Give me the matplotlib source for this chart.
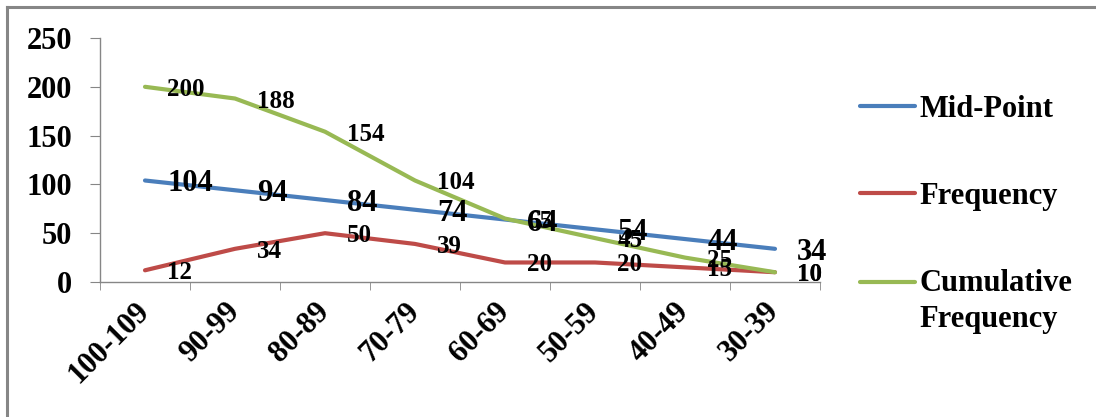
import matplotlib.pyplot as plt
from matplotlib.lines import Line2D
import numpy as np

# chart data
classes = ['100-109', '90-99', '80-89', '70-79', '60-69', '50-59', '40-49', '30-39']
mid_point = [104, 94, 84, 74, 64, 54, 44, 34]
frequency = [12, 34, 50, 39, 20, 20, 15, 10]
cumulative = [200, 188, 154, 104, 65, 45, 25, 10]

plt.rcParams['font.family'] = ['Liberation Serif', 'DejaVu Serif']
plt.rcParams['font.weight'] = 'bold'

fig = plt.figure(figsize=(10.96, 4.17), dpi=100)
ax = fig.add_axes([100 / 1096, 1 - 282 / 417, 720 / 1096, 244 / 417])

x = np.arange(len(classes)) + 0.5
series = [
    ('Mid-Point', mid_point, '#4a7ebb', 22),
    ('Frequency', frequency, '#be4b48', 18),
    ('Cumulative\nFrequency', cumulative, '#98b954', 18),
]
for name, vals, col, fs in series:
    ax.plot(x, vals, color=col, lw=3, solid_capstyle='round', label=name)
    for xi, v in zip(x, vals):
        ax.annotate(str(v), (xi, v), xytext=(16, 0), textcoords='offset points',
                    ha='left', va='center_baseline', fontsize=fs, fontweight='bold')

ax.set_xlim(0, len(classes))
ax.set_ylim(0, 250)
ax.set_yticks(range(0, 251, 50))
ax.set_xticks(x)
ax.set_xticklabels(classes, rotation=45, ha='right', va='center', rotation_mode='anchor')
ax.set_xticks(np.arange(len(classes) + 1), minor=True)
ax.tick_params(axis='x', which='major', length=0, pad=18, labelsize=22)
ax.tick_params(axis='x', which='minor', length=6, color='#868686', direction='out')
ax.tick_params(axis='y', length=7, color='#868686', pad=13, labelsize=22)

for s in ['top', 'right']:
    ax.spines[s].set_visible(False)
for s in ['left', 'bottom']:
    ax.spines[s].set_color('#868686')
    ax.spines[s].set_linewidth(1)

leg = ax.legend(loc='upper left', bbox_to_anchor=(860 / 1096, 1 - 95 / 417),
                bbox_transform=fig.transFigure, frameon=False, fontsize=22,
                handlelength=1.8, handletextpad=0.15, labelspacing=1.9,
                borderpad=0, borderaxespad=0)
for t in leg.get_texts():
    t.set_linespacing(1.3)
# keep the key of the two-line entry level with its first line
h3 = leg.legend_handles[2]
h3.set_ydata(np.asarray(h3.get_ydata()) + 14)

# outer chart border (top and left only visible)
fig.add_artist(Line2D([7 / 1096, 1], [1 - 6.5 / 417] * 2, color='#868686', lw=2.2))
fig.add_artist(Line2D([7 / 1096] * 2, [0, 1 - 6.5 / 417], color='#868686', lw=2.2))

fig.savefig('out.png', dpi=100)
